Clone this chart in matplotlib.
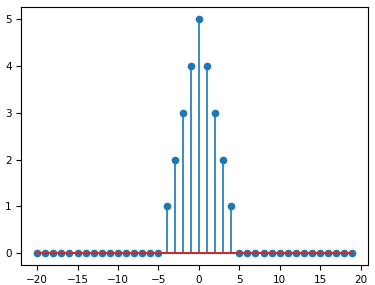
import matplotlib
matplotlib.use("Agg")
import matplotlib.pyplot as plt
import numpy as np

n = list(range(-20, 20))
values = [0]*16 + [1, 2, 3, 4, 5, 4, 3, 2, 1] + [0]*15

fig = plt.figure(figsize=(3.75, 2.85), dpi=100)
ax = fig.add_axes([0.057, 0.07, 0.925, 0.905])
markerline, stemlines, baseline = ax.stem(n, values)
markerline.set_markersize(4.5)
stemlines.set_linewidth(1.2)
ax.tick_params(labelsize=7.5)
fig.savefig("out.png", dpi=100)
